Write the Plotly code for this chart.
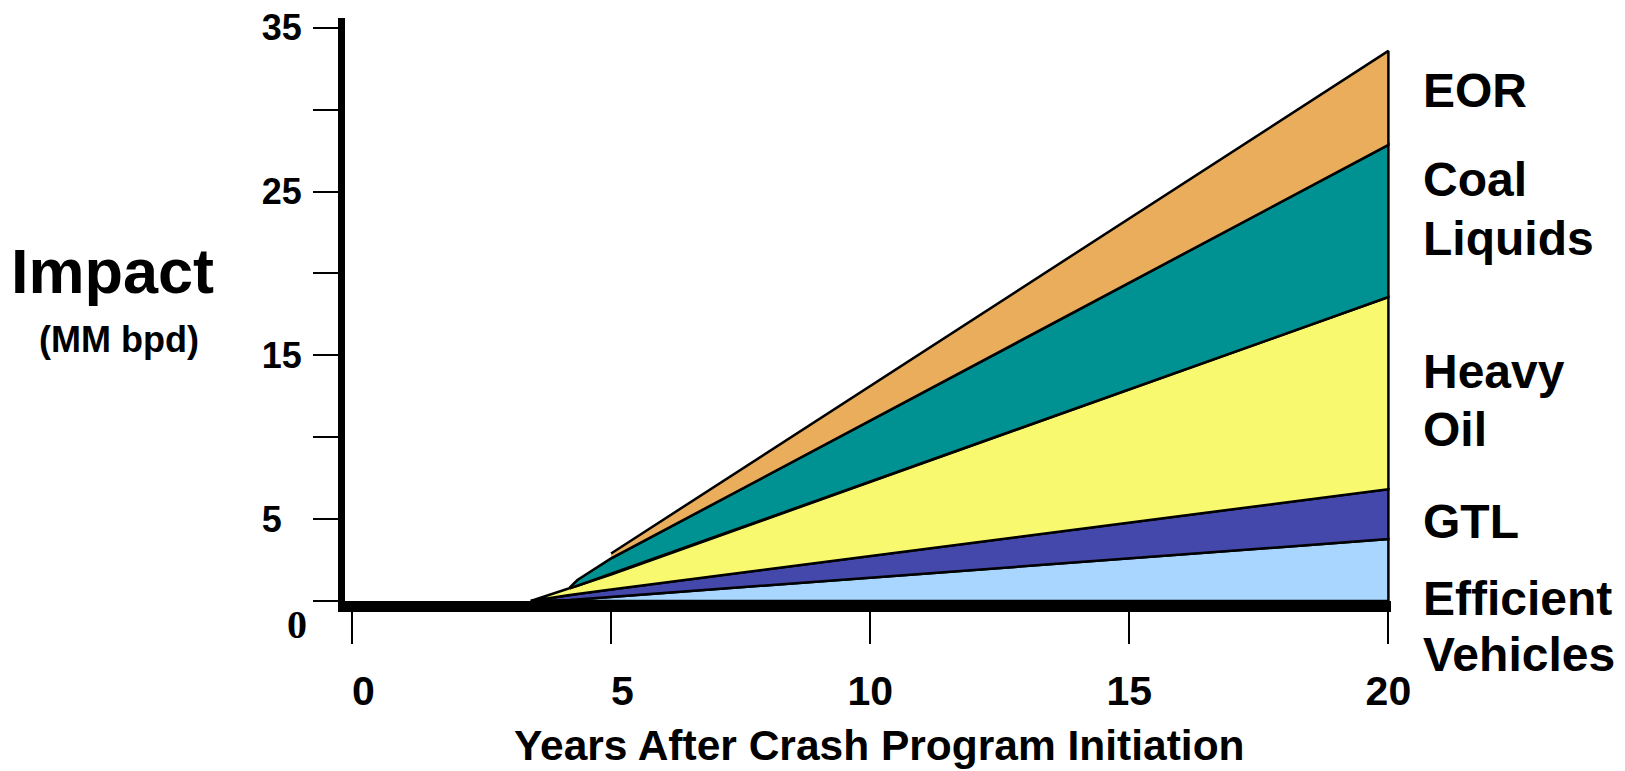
import plotly.graph_objects as go

# ---- data ----
years = [3.45, 4.2, 4.35, 5.0, 20]
efficient_vehicles = [0, 0.06, 0.1, 0.25, 3.78]
gtl = [0, 0.31, 0.33, 0.45, 3.05]
heavy_oil = [0, 0.4, 0.5, 0.92, 11.73]
coal_liquids = [None, 0.05, 0.35, 0.98, 9.29]
eor = [None, None, None, 0.3, 5.74]

layer_names = ["Efficient Vehicles", "GTL", "Heavy Oil", "Coal Liquids", "EOR"]
layer_values = [efficient_vehicles, gtl, heavy_oil, coal_liquids, eor]
layer_colors = ["#A9D6FF", "#4448AA", "#F8F96E", "#009292", "#E9AD5C"]

label_lines = ["EOR", "Coal", "Liquids", "Heavy", "Oil", "GTL", "Efficient", "Vehicles"]
label_pos_px = [90.7, 179.8, 238.9, 371.5, 429.6, 521.8, 598.5, 655.5]

y_tickvals = [0, 5, 10, 15, 20, 25, 30, 35]
y_ticktext = ["", "5\u00a0\u00a0", "", "15", "", "25", "", "35"]
x_tickvals = [0, 5, 10, 15, 20]
x_ticktext = ["\u00a0\u00a00", "\u00a0\u00a05", "10", "15", "20"]

# page offset (body margin) and layout in screen pixels
OFF = 8
W, H = 1625 - OFF, 771 - OFF
PL, PR, PT, PB = 345, 1390.6, 17.7, 601.5
X_RANGE = [-0.135, 20.05]
Y_RANGE = [0, 35.6]

FONT = "Liberation Sans, Arial, sans-serif"

fig = go.Figure()

lower = [0.0] * len(years)
for name, vals, col in zip(layer_names, layer_values, layer_colors):
    i0 = next(i for i, v in enumerate(vals) if v is not None)
    upper = [lower[i] + (vals[i] if vals[i] is not None else 0) for i in range(len(years))]
    xs = years[i0:] + years[i0:][::-1]
    ys = upper[i0:] + lower[i0:][::-1]
    fig.add_trace(go.Scatter(
        x=xs, y=ys, mode="lines", fill="toself", fillcolor=col,
        line=dict(color="black", width=2.5), name=name, showlegend=False,
        hoverinfo="skip"))
    lower = upper

fig.update_layout(
    template="none",
    width=W, height=H,
    margin=dict(l=PL - OFF, r=W - (PR - OFF), t=PT - OFF, b=H - (PB - OFF), pad=0,
                autoexpand=False),
    paper_bgcolor="white", plot_bgcolor="white",
    showlegend=False,
    xaxis=dict(
        range=X_RANGE, showgrid=False, zeroline=False, automargin=False,
        showline=True, linecolor="black", linewidth=11,
        tickvals=x_tickvals, ticktext=x_ticktext,
        ticks="outside", ticklen=32, tickwidth=2, tickcolor="black",
        tickfont=dict(family=FONT, size=41, color="black", weight="bold"),
        ticklabelstandoff=12, ticklabeloverflow="allow",
    ),
    yaxis=dict(
        range=Y_RANGE, showgrid=False, zeroline=False, automargin=False,
        showline=True, linecolor="black", linewidth=7,
        tickvals=y_tickvals, ticktext=y_ticktext,
        ticks="outside", ticklen=25, tickwidth=2, tickcolor="black",
        tickfont=dict(family=FONT, size=36, color="black", weight="bold"),
        ticklabelstandoff=4, ticklabeloverflow="allow",
    ),
)

def px_x(sx):
    return (sx - PL) / (PR - PL)

def px_y(sy):
    return (PB - sy) / (PB - PT)

ann = []
for txt, yp in zip(label_lines, label_pos_px):
    ann.append(dict(text=txt, x=px_x(1421), y=px_y(yp), xref="paper", yref="paper",
                    xanchor="left", yanchor="middle", showarrow=False, align="left",
                    font=dict(family=FONT, size=48, color="black", weight="bold")))
ann.append(dict(text="Impact", x=px_x(113), y=px_y(271), xref="paper", yref="paper",
                xanchor="center", yanchor="middle", showarrow=False,
                font=dict(family=FONT, size=63, color="black", weight="bold")))
ann.append(dict(text="(MM bpd)", x=px_x(119), y=px_y(340), xref="paper", yref="paper",
                xanchor="center", yanchor="middle", showarrow=False,
                font=dict(family=FONT, size=36, color="black", weight="bold")))
ann.append(dict(text="0", x=px_x(297), y=px_y(625), xref="paper", yref="paper",
                xanchor="center", yanchor="middle", showarrow=False,
                font=dict(family="Liberation Serif, Times New Roman, serif", size=40,
                          color="black", weight="bold")))
ann.append(dict(text="Years After Crash Program Initiation", x=px_x(879), y=px_y(746),
                xref="paper", yref="paper", xanchor="center", yanchor="middle", showarrow=False,
                font=dict(family=FONT, size=42.5, color="black", weight="bold")))
fig.update_layout(annotations=ann)

fig.write_html("out.html")
